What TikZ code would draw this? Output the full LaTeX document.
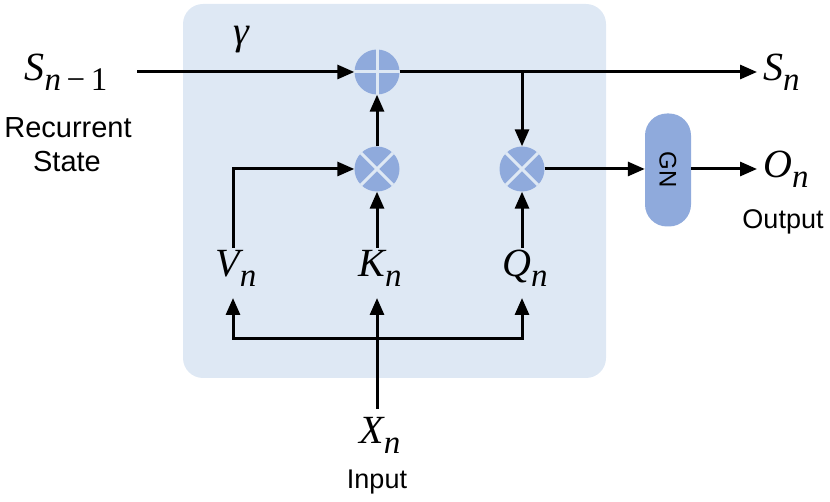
\documentclass[tikz,border=0pt]{standalone}
\usepackage{fontspec}
\setmainfont{Liberation Sans}
\newfontfamily\lsi{Liberation Serif}[UprightFont=* Italic]
\newfontfamily\lsr{Liberation Serif}
\usetikzlibrary{arrows.meta}
\definecolor{bgblue}{HTML}{DEE8F4}
\definecolor{opblue}{HTML}{8FAADC}
\newcommand\varlbl[2]{{\lsi #1}\raisebox{-10pt}{\fontsize{33}{35}\selectfont #2}}
\tikzset{
  conn/.style={line width=3pt},
  arr/.style={conn,-{Triangle[length=17pt,width=14pt]}},
  opnode/.style={circle,fill=opblue,minimum size=45pt,inner sep=0pt},
  mathlbl/.style={font=\fontsize{40}{42}\selectfont\lsi,inner sep=1pt},
  txt/.style={font=\fontsize{29}{32}\selectfont,inner sep=0pt},
  txtb/.style={font=\fontsize{27}{30}\selectfont,inner sep=0pt},
}
\begin{document}
\begin{tikzpicture}[x=1pt,y=-1pt]
\useasboundingbox (0,0) rectangle (830,502);
\fill[bgblue,rounded corners=20pt] (183,4) rectangle (606,378);
\node[mathlbl] (gamma) at (241,40) {γ};
% operators
\node[opnode] (plus) at (377,72) {};
\draw[bgblue,line width=3pt] (plus.north) -- (plus.south) (plus.west) -- (plus.east);
\node[opnode] (m1) at (377,169) {};
\draw[bgblue,line width=3pt] (m1.north west) -- (m1.south east) (m1.north east) -- (m1.south west);
\node[opnode] (m2) at (522,169) {};
\draw[bgblue,line width=3pt] (m2.north west) -- (m2.south east) (m2.north east) -- (m2.south west);
\node[fill=opblue,rounded corners=22pt,minimum width=46pt,minimum height=113pt,inner sep=0pt] (gn) at (668,170) {};
\node[rotate=-90,font=\fontsize{24}{26}\selectfont] at (gn.center) {GN};
% labels
\node[mathlbl] (sprev) at (66,72) {\varlbl{S}{\lsi n\lsr\,−\,1}};
\node[txt] (rec) at (68,128) {Recurrent};
\node[txt] (state) at (67,162) {State};
\node[mathlbl,anchor=west] (sn) at (762,72) {\varlbl{S}{n}};
\node[mathlbl,anchor=west] (on) at (762,169) {\varlbl{O}{n}};
\node[txtb] (out) at (783,222) {Output};
\node[mathlbl] (vn) at (236,268) {\varlbl{V}{n}};
\node[mathlbl] (kn) at (380,268) {\varlbl{K}{n}};
\node[mathlbl] (qn) at (525,268) {\varlbl{Q}{n}};
\node[mathlbl] (xn) at (380,435) {\varlbl{X}{n}};
\node[txtb] (inp) at (377,482) {Input};
% coordinates
\coordinate (sstart) at (137,72);
\coordinate (br) at (522,72);
\coordinate (vtop) at (233,169);
\coordinate (vtopl) at (233,248);
\coordinate (ktop) at (377,248);
\coordinate (qtop) at (522,248);
\coordinate (vlow) at (233,298);
\coordinate (qlow) at (522,298);
\coordinate (hl) at (233,339);
\coordinate (hr) at (522,339);
\coordinate (xtop) at (377,409);
\coordinate (klow) at (377,298);
\coordinate (snend) at (757,72);
\coordinate (onend) at (757,169);
% connectors
\draw[arr] (sstart) -- (plus.west);
\draw[arr] (plus.east) -- (snend);
\draw[arr] (br) -- (m2.north);
\draw[arr] (m1.north) -- (plus.south);
\draw[arr] (ktop) -- (m1.south);
\draw[arr] (qtop) -- (m2.south);
\draw[arr] (vtopl) -- (vtop) -- (m1.west);
\draw[arr] (m2.east) -- (m2.east -| gn.west);
\draw[arr] (gn.east |- onend) -- (onend);
\draw[arr] (xtop) -- (klow);
\draw[arr] (hr) -- (hl) -- (vlow);
\draw[arr] (hl) -- (hr) -- (qlow);
\end{tikzpicture}
\end{document}
